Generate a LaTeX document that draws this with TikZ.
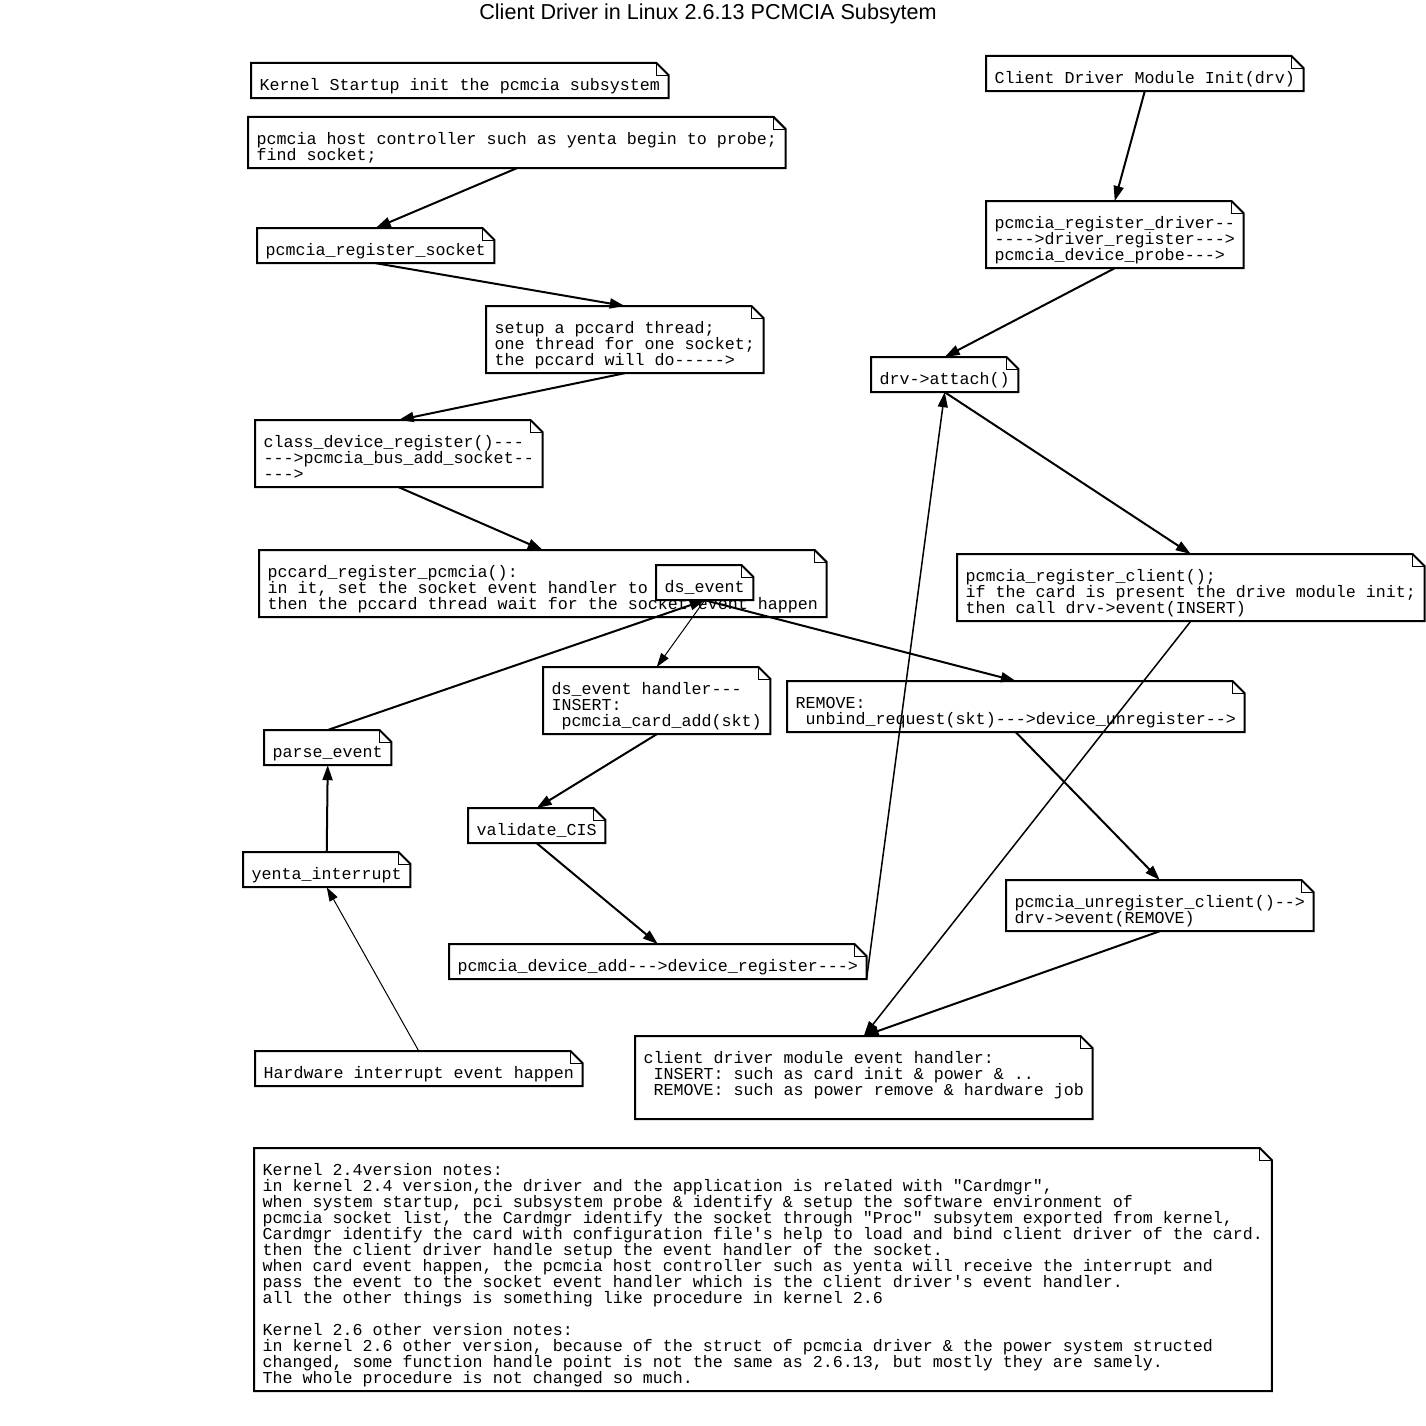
\documentclass[tikz,border=0pt]{standalone}
\usepackage{fontspec}
\setmonofont{Liberation Mono}
\newfontfamily\titlefont{Liberation Sans}
\usepackage{tikz}
\usetikzlibrary{arrows.meta}
\newcommand\notefont{\ttfamily\fontsize{16.67}{16}\selectfont}
\newcommand\notestrut{\rule{0pt}{24pt}}

\begin{document}
\begin{tikzpicture}[x=1pt, y=-1pt,
    note/.style={anchor=north west, align=left, fill=white, inner xsep=8.5pt, inner ysep=3pt,
      font=\notefont, execute at begin node=\notestrut, execute at end node=\strut},
    flow/.style={line width=2pt, -{Triangle[length=15pt,width=10pt]}},
    thinflow/.style={line width=1pt, -{Triangle[length=14pt,width=9pt]}},
    midflow/.style={line width=1.5pt, -{Triangle[length=15pt,width=10pt]}}]
    \useasboundingbox (0,0) rectangle (1425,1426);
    \node[font=\titlefont\fontsize{21.6}{25}\selectfont] (title) at (708,14) {Client Driver in Linux 2.6.13 PCMCIA Subsytem};

    % left column
    \node[note] (kinit) at (251,63) {Kernel Startup init the pcmcia subsystem};
    \node[note] (host) at (248,117) {\notestrut pcmcia host controller such as yenta begin to probe;\\find socket;};
    \node[note] (regsock) at (257,228) {pcmcia\_register\_socket};
    \node[note] (thread) at (486,306) {\notestrut setup a pccard thread;\\one thread for one socket;\\the pccard will do----->};
    \node[note] (classdev) at (255,420) {\notestrut class\_device\_register()---\\--->pcmcia\_bus\_add\_socket--\\--->};
    \node[note] (pccard) at (259,550) {\notestrut pccard\_register\_pcmcia():\\in it, set the socket event handler to\\then the pccard thread wait for the socket event happen};
    \node[note] (dsevent) at (656,565) {ds\_event};
    \node[note] (dshandler) at (543,667) {\notestrut ds\_event handler---\\INSERT:\\~pcmcia\_card\_add(skt)};
    \node[note] (remove) at (787,681) {\notestrut REMOVE:\\~unbind\_request(skt)--->device\_unregister-->};
    \node[note] (parse) at (264,730) {parse\_event};
    \node[note] (validate) at (468,808) {validate\_CIS};
    \node[note] (yenta) at (243,852) {yenta\_interrupt};
    \node[note] (devadd) at (449,944) {pcmcia\_device\_add--->device\_register--->};
    \node[note] (hw) at (255,1051) {Hardware interrupt event happen};

    % right column
    \node[note] (cdinit) at (986,56) {Client Driver Module Init(drv)};
    \node[note] (regdrv) at (986,201) {\notestrut pcmcia\_register\_driver--\\---->driver\_register--->\\pcmcia\_device\_probe--->};
    \node[note] (attach) at (871,357) {drv->attach()};
    \node[note] (regclient) at (957,554) {\notestrut pcmcia\_register\_client();\\if the card is present the drive module init;\\then call drv->event(INSERT)};
    \node[note] (unregclient) at (1006,880) {\notestrut pcmcia\_unregister\_client()-->\\drv->event(REMOVE)};
    \node[note] (handler) at (635,1036) {\notestrut client driver module event handler:\\~INSERT: such as card init \& power \& ..\\~REMOVE: such as power remove \& hardware job\\\mbox{}};

    \node[note] (notes) at (254,1148) {\notestrut Kernel 2.4version notes:\\
      in kernel 2.4 version,the driver and the application is related with "Cardmgr",\\
      when system startup, pci subsystem probe \& identify \& setup the software environment of\\
      pcmcia socket list, the Cardmgr identify the socket through "Proc" subsytem exported from kernel,\\
      Cardmgr identify the card with configuration file's help to load and bind client driver of the card.\\
      then the client driver handle setup the event handler of the socket.\\
      when card event happen, the pcmcia host controller such as yenta will receive the interrupt and\\
      pass the event to the socket event handler which is the client driver's event handler.\\
      all the other things is something like procedure in kernel 2.6\\
      \mbox{}\\
      Kernel 2.6 other version notes:\\
      in kernel 2.6 other version, because of the struct of pcmcia driver \& the power system structed\\
      changed, some function handle point is not the same as 2.6.13, but mostly they are samely.\\
      The whole procedure is not changed so much.};

    % note outlines with folded corner
    \foreach \n in {kinit,host,regsock,thread,classdev,pccard,dsevent,dshandler,remove,parse,validate,yenta,devadd,hw,cdinit,regdrv,attach,regclient,unregclient,handler,notes} {
      \draw[line width=2pt] (\n.north west) -- ([xshift=-12pt]\n.north east) -- ([yshift=-12pt]\n.north east) |- (\n.south west) -- cycle;
      \draw[line width=0.8pt] ([xshift=-12pt]\n.north east) |- ([yshift=-12pt]\n.north east);
    }

    \draw[flow] (host.south) -- (regsock.north);
    \draw[flow] (regsock.south) -- (thread.north);
    \draw[flow] (thread.south) -- (classdev.north);
    \draw[flow] (classdev.south) -- (pccard.north);
    \draw[flow] (parse.north) -- (dsevent.south);
    \draw[thinflow] (dsevent.south) -- (dshandler.north);
    \draw[flow] (dsevent.south) -- (remove.north);
    \draw[flow] (yenta.north) -- (parse.south);
    \draw[thinflow] (hw.north) -- (yenta.south);
    \draw[flow] (dshandler.south) -- (validate.north);
    \draw[flow] (validate.south) -- (devadd.north);

    \draw[flow] (cdinit.south) -- (regdrv.north);
    \draw[flow] (regdrv.south) -- (attach.north);
    \draw[flow] (attach.south) -- (regclient.north);
    \draw[midflow] (devadd.south east) -- (attach.south);
    \draw[midflow] (regclient.south) -- (handler.north);
    \draw[flow] (remove.south) -- (unregclient.north);
    \draw[flow] (unregclient.south) -- (handler.north);
\end{tikzpicture}
\end{document}
